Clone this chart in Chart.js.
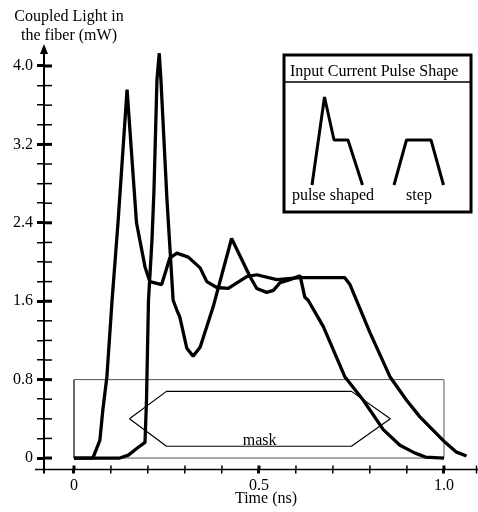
<!DOCTYPE html>
<html><head><meta charset="utf-8">
<script src="https://cdn.jsdelivr.net/npm/chart.js@4"></script>
<style>html,body{margin:0;padding:0;background:#fff}#wrap{width:478px;height:512px}</style>
</head><body><div id="wrap"><canvas id="c" width="478" height="512"></canvas></div>
<script>
// ---- data (time in ns, coupled light in mW) ----
const stepTime  = [0, 0.051, 0.070, 0.078, 0.089, 0.103, 0.119, 0.1435, 0.169, 0.192, 0.205, 0.237, 0.259, 0.278, 0.309, 0.341, 0.359, 0.386, 0.417, 0.467, 0.494, 0.548, 0.611, 0.732, 0.746, 0.800, 0.854, 0.899, 0.935, 1.003, 1.034, 1.061];
const stepPower = [0, 0,     0.18,  0.49,  0.83,  1.61,  2.40,  3.76,   2.40,  1.95,  1.80,  1.77,  2.04,  2.09,  2.05,  1.94,  1.80,  1.74,  1.73,  1.85,  1.87,  1.82,  1.84,  1.84,  1.77,  1.28,  0.83,  0.59,  0.42,  0.16,  0.06,  0.02];
const shapedTime  = [0, 0.124, 0.147, 0.174, 0.192, 0.196, 0.2014, 0.2108, 0.2162, 0.2243, 0.2305, 0.235, 0.251, 0.268, 0.278, 0.286, 0.305, 0.322, 0.341, 0.376, 0.426, 0.476, 0.494, 0.521, 0.539, 0.557, 0.584, 0.611, 0.624, 0.633, 0.674, 0.732, 0.782, 0.836, 0.881, 0.922, 0.950, 1.000];
const shapedPower = [0, 0,     0.03,  0.11,  0.16,  0.59,  1.61,   2.22,   2.73,   3.86,   4.13,   3.86,  2.66,  1.61,  1.51,  1.44,  1.12,  1.04,  1.13,  1.54,  2.24,  1.85,  1.73,  1.69,  1.71,  1.79,  1.82,  1.86,  1.64,  1.61,  1.34,  0.83,  0.59,  0.29,  0.13,  0.05,  0.01,  0];
const maskRectTime  = [0, 1.0, 1.0, 0, 0];
const maskRectPower = [0, 0, 0.8, 0.8, 0];
const maskHexTime  = [0.150, 0.250, 0.750, 0.855, 0.750, 0.250, 0.150];
const maskHexPower = [0.40, 0.68, 0.68, 0.40, 0.12, 0.12, 0.40];
const xTickValues = [0, 0.5, 1.0];
const xTickLabels = ['0', '0.5', '1.0'];
const yTickValues = [0, 0.8, 1.6, 2.4, 3.2, 4.0];
const yTickLabels = ['0', '0.8', '1.6', '2.4', '3.2', '4.0'];
const yTitleLines = ['Coupled Light in', 'the fiber (mW)'];
const xTitle = 'Time (ns)';
const maskLabel = 'mask';
const legendTitle = 'Input Current Pulse Shape';
const legendLabels = ['pulse shaped', 'step'];

const FONT = "'Liberation Serif','Times New Roman',serif";
const pts = (xs, ys) => xs.map((x, i) => ({x: x, y: ys[i]}));
const findIdx = (arr, v) => arr.findIndex(t => Math.abs(t - v) < 1e-6);
const minorTicks = (from, to, step) => { const a = []; for (let v = from; v <= to + 1e-9; v += step) a.push({value: Math.round(v * 1000) / 1000}); return a; };

const lineDs = (data, w, color) => ({data: data, showLine: true, pointRadius: 0, borderColor: color, borderWidth: w, fill: false, tension: 0, borderJoinStyle: 'bevel'});

const decor = {
  id: 'decor',
  afterDraw(chart) {
    const ctx = chart.ctx, xs = chart.scales.x, ys = chart.scales.y, ca = chart.chartArea;
    const ax = ca.left, ay = ca.bottom;
    ctx.save();
    ctx.strokeStyle = '#000'; ctx.fillStyle = '#000';
    // axis lines
    ctx.lineWidth = 2;
    ctx.beginPath(); ctx.moveTo(ax, 52); ctx.lineTo(ax, ay + 4); ctx.stroke();
    ctx.lineWidth = 1.5;
    ctx.beginPath(); ctx.moveTo(35, ay); ctx.lineTo(478, ay); ctx.stroke();
    // arrow on y axis
    ctx.beginPath(); ctx.moveTo(ax, 44); ctx.lineTo(ax - 4, 54); ctx.lineTo(ax + 4, 54); ctx.closePath(); ctx.fill();
    // inner halves of ticks
    for (let v = 0; v <= 4.0001; v += 0.2) {
      const p = ys.getPixelForValue(v);
      const major = findIdx(yTickValues, Math.round(v * 10) / 10) >= 0;
      ctx.lineWidth = major ? 3 : 1.5;
      ctx.beginPath(); ctx.moveTo(ax, p); ctx.lineTo(ax + 8, p); ctx.stroke();
    }
    for (let v = 0; v <= 1.0001; v += 0.1) {
      const p = xs.getPixelForValue(v);
      const major = findIdx(xTickValues, Math.round(v * 10) / 10) >= 0;
      ctx.lineWidth = major ? 3 : 1.5;
      ctx.beginPath(); ctx.moveTo(p, ay); ctx.lineTo(p, ay - 4); ctx.stroke();
    }
    ctx.lineWidth = 1.5;
    ctx.beginPath(); ctx.moveTo(476.5, ay - 4); ctx.lineTo(476.5, ay + 4); ctx.stroke();
    // axis titles
    ctx.font = '16px ' + FONT; ctx.textAlign = 'center'; ctx.textBaseline = 'alphabetic';
    ctx.fillText(yTitleLines[0], 69, 21);
    ctx.fillText(yTitleLines[1], 69, 40);
    ctx.fillText(xTitle, 266, 503);
    // mask label
    ctx.fillText(maskLabel, xs.getPixelForValue(0.502), ys.getPixelForValue(0.125) - 1);
    // legend box
    ctx.lineWidth = 3;
    ctx.strokeRect(284, 55, 187, 157);
    ctx.lineWidth = 1.5;
    ctx.beginPath(); ctx.moveTo(284, 82); ctx.lineTo(471, 82); ctx.stroke();
    ctx.textAlign = 'left';
    ctx.fillText(legendTitle, 290, 76);
    ctx.textAlign = 'center';
    ctx.fillText(legendLabels[0], 333, 200);
    ctx.fillText(legendLabels[1], 419, 200);
    ctx.lineWidth = 3; ctx.lineJoin = 'bevel';
    ctx.beginPath(); ctx.moveTo(312, 185); ctx.lineTo(324.5, 97); ctx.lineTo(334, 140); ctx.lineTo(348, 140); ctx.lineTo(362.5, 185); ctx.stroke();
    ctx.beginPath(); ctx.moveTo(394, 185); ctx.lineTo(406.5, 140); ctx.lineTo(431, 140); ctx.lineTo(443.5, 185); ctx.stroke();
    ctx.restore();
  }
};

new Chart(document.getElementById('c'), {
  type: 'scatter',
  data: {
    datasets: [
      lineDs(pts(stepTime, stepPower), 3.3, '#000'),
      lineDs(pts(shapedTime, shapedPower), 3.3, '#000'),
      lineDs(pts(maskHexTime, maskHexPower), 1.2, '#000'),
      lineDs(pts(maskRectTime, maskRectPower), 1, '#555')
    ]
  },
  options: {
    responsive: false, animation: false, devicePixelRatio: 1,
    layout: {padding: {top: 45, right: 0, left: 0, bottom: 0}},
    plugins: {legend: {display: false}, tooltip: {enabled: false}, title: {display: false}},
    scales: {
      x: {
        type: 'linear', min: -0.081, max: 1.092,
        afterBuildTicks: s => { s.ticks = minorTicks(0, 1.0, 0.1); },
        afterFit: s => { s.height = 42.5; },
        border: {display: false},
        grid: {display: true, drawOnChartArea: false, drawTicks: true, tickLength: 4, color: '#000',
               lineWidth: c => (c.tick && findIdx(xTickValues, c.tick.value) >= 0) ? 3 : 1.5},
        ticks: {autoSkip: false, maxRotation: 0, padding: 3, color: '#000', font: {family: FONT, size: 16},
                callback: v => { const i = findIdx(xTickValues, v); return i >= 0 ? xTickLabels[i] : ''; }}
      },
      y: {
        type: 'linear', min: -0.117, max: 4.214,
        afterBuildTicks: s => { s.ticks = minorTicks(0, 4.0, 0.2); },
        afterFit: s => { s.width = 44; },
        border: {display: false},
        grid: {display: true, drawOnChartArea: false, drawTicks: true, tickLength: 7, color: '#000',
               lineWidth: c => (c.tick && findIdx(yTickValues, c.tick.value) >= 0) ? 3 : 1.5},
        ticks: {autoSkip: false, padding: 4, color: '#000', font: {family: FONT, size: 16},
                callback: v => { const i = findIdx(yTickValues, v); return i >= 0 ? yTickLabels[i] : ''; }}
      }
    }
  },
  plugins: [decor]
});
</script></body></html>
